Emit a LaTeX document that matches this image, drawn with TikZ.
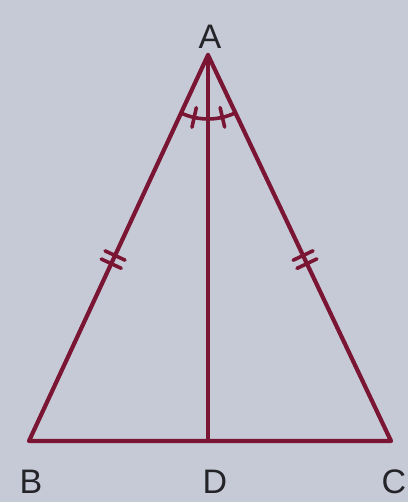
\documentclass[tikz,border=0pt]{standalone}
\usepackage{fontspec}
\setmainfont{Liberation Sans}
\usetikzlibrary{calc}
\definecolor{bg}{RGB}{198,202,215}
\definecolor{ln}{RGB}{122,22,52}
\definecolor{tx}{RGB}{35,35,40}
\begin{document}
\begin{tikzpicture}[x=1pt,y=1pt,
  seg/.style={draw=ln,line width=4.2pt,line join=round,line cap=round},
  tick/.style={draw=ln,line width=3.6pt,line cap=round},
  lab/.style={text=tx,font=\fontsize{34}{40}\selectfont,inner sep=0pt}]
\fill[bg] (0,0) rectangle (408,502);
\useasboundingbox (0,0) rectangle (408,502);
\coordinate (A) at (208,447);
\coordinate (B) at (29,61);
\coordinate (C) at (391,61);
\coordinate (D) at (208,61);
\draw[seg] (A) -- (B) -- (C) -- cycle;
\draw[seg] (A) -- (D);
% angle arc
\draw[tick,shift={(A)}] (245.1:64) arc (245.1:295.4:64);
\draw[tick,shift={(A)}] (257.5:54) -- (257.5:74);
\draw[tick,shift={(A)}] (283:54) -- (283:74);
% equal-side ticks
\coordinate (t1) at ($(A)!0.53!(B)$);
\coordinate (t2) at ($(A)!0.53!(C)$);
\begin{scope}[shift={(t1)},rotate=245.1]
  \draw[tick] (-4.5,-11) -- (-4.5,11);
  \draw[tick] (4.5,-11) -- (4.5,11);
\end{scope}
\begin{scope}[shift={(t2)},rotate=295.4]
  \draw[tick] (-4.5,-11) -- (-4.5,11);
  \draw[tick] (4.5,-11) -- (4.5,11);
\end{scope}
\node[lab] (lA) at (210,465) {A};
\node[lab] (lB) at (31,20) {B};
\node[lab] (lD) at (215,20) {D};
\node[lab] (lC) at (394,20) {C};
\end{tikzpicture}
\end{document}
